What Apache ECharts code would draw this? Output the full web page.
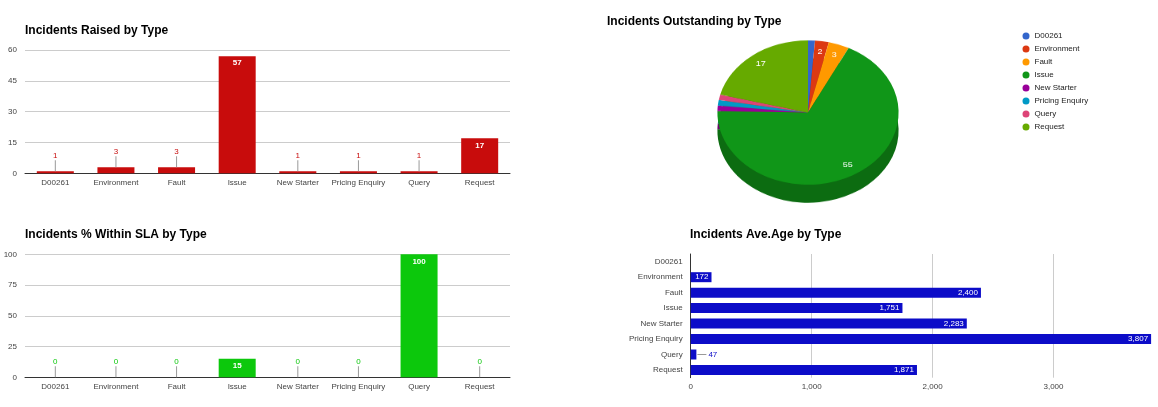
<!DOCTYPE html>
<html><head><meta charset="utf-8">
<script src="https://cdn.jsdelivr.net/npm/echarts@6/dist/echarts.min.js"></script>
<style>
html,body{margin:0;padding:0;background:#fff;}
#wrap{position:relative;width:1158px;height:407px;overflow:hidden;background:#fff;}
#main{position:absolute;left:0;top:0;width:1158px;height:407px;}
#pie{position:absolute;left:0;top:0;width:1158px;height:407px;transform-origin:808px 112.5px;transform:scaleY(0.797);pointer-events:none;}
</style></head><body>
<div id="wrap"><div id="main"></div><div id="pie"></div></div>
<script>
// ---------- data ----------
const categories = ['D00261','Environment','Fault','Issue','New Starter','Pricing Enquiry','Query','Request'];
const raisedValues = [1, 3, 3, 57, 1, 1, 1, 17];
const slaValues = [0, 0, 0, 15, 0, 0, 100, 0];
const outstandingValues = [1, 2, 3, 55, 1, 1, 1, 17];
const aveAgeValues = [null, 172, 2400, 1751, 2283, 3807, 47, 1871];
const raisedTicks = [0, 15, 30, 45, 60];
const slaTicks = [0, 25, 50, 75, 100];
const ageTicks = [0, 1000, 2000, 3000];
const titles = ['Incidents Raised by Type', 'Incidents Outstanding by Type', 'Incidents % Within SLA by Type', 'Incidents Ave.Age by Type'];

// ---------- styles ----------
const FONT = '"Liberation Sans", Arial, sans-serif';
const RED = '#c80c0c', GREEN = '#0cc80c', BLUE = '#0c0cc8';
const PALETTE = ['#3366cc','#dc3912','#ff9900','#109618','#990099','#0099c6','#dd4477','#66aa00'];
const LABEL_GREY = '#444';
const fmtNum = v => Number(v).toLocaleString('en-US');

function darken(hex, f) {
  const n = parseInt(hex.slice(1), 16);
  const r = Math.round(((n >> 16) & 255) * f), g = Math.round(((n >> 8) & 255) * f), b = Math.round((n & 255) * f);
  return 'rgb(' + r + ',' + g + ',' + b + ')';
}

function columnItems(values, color, insideMin) {
  return values.map(v => {
    if (v >= insideMin) {
      return { value: v, label: { position: 'insideTop', distance: 3, color: '#fff', fontWeight: 'bold' } };
    }
    return { value: v, label: {
      position: 'top', distance: 0,
      formatter: p => '{v|' + p.value + '}\n{l|}',
      rich: {
        v: { color: color, fontSize: 8, lineHeight: 9, fontFamily: FONT, align: 'center' },
        l: { width: 1, height: 11, backgroundColor: '#999', align: 'center' }
      }
    } };
  });
}

function hbarItems(values, color, insideMin) {
  return values.map(v => {
    if (v == null) return '-';
    if (v >= insideMin) {
      return { value: v, label: { position: 'insideRight', distance: 3, color: '#fff', formatter: p => fmtNum(p.value) } };
    }
    return { value: v, label: {
      position: 'right', distance: 1,
      formatter: p => '{l|}{v|' + fmtNum(p.value) + '}',
      rich: {
        l: { width: 9, height: 1, backgroundColor: '#999', verticalAlign: 'middle' },
        v: { color: color, fontSize: 8, fontFamily: FONT, padding: [0, 0, 0, 2], verticalAlign: 'middle' }
      }
    } };
  });
}

const titleStyle = { fontSize: 12, fontWeight: 'bold', color: '#000', fontFamily: FONT };
const catLabel = { fontSize: 8, color: LABEL_GREY, fontFamily: FONT };
const ageMax = Math.max(...aveAgeValues.filter(v => v != null));

const main = echarts.init(document.getElementById('main'), null, { renderer: 'canvas' });
main.setOption({
  animation: false,
  backgroundColor: '#fff',
  textStyle: { fontFamily: FONT },
  title: [
    { text: titles[0], left: 25, top: 25, padding: 0, textStyle: titleStyle },
    { text: titles[1], left: 607, top: 16, padding: 0, textStyle: titleStyle },
    { text: titles[2], left: 25, top: 229, padding: 0, textStyle: titleStyle },
    { text: titles[3], left: 690, top: 229, padding: 0, textStyle: titleStyle }
  ],
  legend: {
    orient: 'vertical', left: 1022.5, top: 32, padding: 0,
    icon: 'circle', itemWidth: 7, itemHeight: 7, itemGap: 5,
    textStyle: { fontSize: 8, color: '#222', fontFamily: FONT },
    data: categories
  },
  grid: [
    { left: 25, top: 50, width: 485, height: 123.3, outerBoundsMode: 'none' },
    { left: 25, top: 254.3, width: 485, height: 123, outerBoundsMode: 'none' },
    { left: 690.7, top: 254, width: 460.4, height: 123.7, outerBoundsMode: 'none' }
  ],
  xAxis: [
    { type: 'category', gridIndex: 0, data: categories,
      axisLine: { lineStyle: { color: '#333' } }, axisTick: { show: false },
      axisLabel: Object.assign({ margin: 5, interval: 0 }, catLabel) },
    { type: 'category', gridIndex: 1, data: categories,
      axisLine: { lineStyle: { color: '#333' } }, axisTick: { show: false },
      axisLabel: Object.assign({ margin: 5, interval: 0 }, catLabel) },
    { type: 'value', gridIndex: 2, min: ageTicks[0], max: ageMax, interval: ageTicks[1] - ageTicks[0],
      axisLine: { show: false }, axisTick: { show: false },
      splitLine: { lineStyle: { color: '#ccc' }, showMaxLine: false, showMinLine: false },
      axisLabel: Object.assign({ margin: 5, showMaxLabel: false, formatter: v => fmtNum(v) }, catLabel) }
  ],
  yAxis: [
    { type: 'value', gridIndex: 0, min: raisedTicks[0], max: raisedTicks[raisedTicks.length - 1], interval: raisedTicks[1] - raisedTicks[0],
      axisLine: { show: false }, axisTick: { show: false },
      splitLine: { lineStyle: { color: '#ccc' } },
      axisLabel: Object.assign({ margin: 8 }, catLabel) },
    { type: 'value', gridIndex: 1, min: slaTicks[0], max: slaTicks[slaTicks.length - 1], interval: slaTicks[1] - slaTicks[0],
      axisLine: { show: false }, axisTick: { show: false },
      splitLine: { lineStyle: { color: '#ccc' } },
      axisLabel: Object.assign({ margin: 8 }, catLabel) },
    { type: 'category', gridIndex: 2, data: categories, inverse: true,
      axisLine: { show: true, lineStyle: { color: '#333' } }, axisTick: { show: false },
      axisLabel: Object.assign({ margin: 8, interval: 0 }, catLabel) }
  ],
  series: [
    { type: 'bar', xAxisIndex: 0, yAxisIndex: 0, barWidth: 37, itemStyle: { color: RED },
      label: { show: true, fontSize: 8, fontFamily: FONT }, data: columnItems(raisedValues, RED, 10) },
    { type: 'bar', xAxisIndex: 1, yAxisIndex: 1, barWidth: 37, itemStyle: { color: GREEN },
      label: { show: true, fontSize: 8, fontFamily: FONT }, data: columnItems(slaValues, GREEN, 10) },
    { type: 'bar', xAxisIndex: 2, yAxisIndex: 2, barWidth: 10, itemStyle: { color: BLUE },
      label: { show: true, fontSize: 8, fontFamily: FONT }, data: hbarItems(aveAgeValues, BLUE, 100) },
    // legend source (drawn by the pie chart overlay)
    { type: 'pie', name: 'legend', center: [808, 112], radius: 0, silent: true,
      label: { show: false }, labelLine: { show: false },
      data: categories.map((c, i) => ({ name: c, value: outstandingValues[i], itemStyle: { color: PALETTE[i] } })) }
  ]
});

// ---------- 3D-looking pie (squished vertically via CSS) ----------
const SQ = 0.797, DEPTH = 18, R = 90.6, CX = 808, CY = 112.5;
const pie = echarts.init(document.getElementById('pie'), null, { renderer: 'canvas' });
const pieData = (colorFn) => categories.map((c, i) => ({ name: c, value: outstandingValues[i], itemStyle: { color: colorFn(i) } }));
pie.setOption({
  animation: false,
  series: [
    { type: 'pie', center: [CX, CY + DEPTH / SQ], radius: R, silent: true,
      label: { show: false }, labelLine: { show: false }, itemStyle: { borderWidth: 0 },
      data: pieData(i => darken(PALETTE[i], 0.72)) },
    { type: 'pie', center: [CX, CY], radius: R, silent: true,
      label: { show: false }, labelLine: { show: false }, itemStyle: { borderWidth: 0 },
      data: pieData(i => PALETTE[i]) },
    { type: 'pie', center: [CX, CY], radius: [58, 90], silent: true, minShowLabelAngle: 6,
      itemStyle: { borderWidth: 0 }, labelLine: { show: false },
      label: { show: true, position: 'inside', formatter: '{c}', color: '#fff', fontSize: 9, fontFamily: FONT },
      data: pieData(() => 'rgba(0,0,0,0)') }
  ]
});
</script>
</body></html>
